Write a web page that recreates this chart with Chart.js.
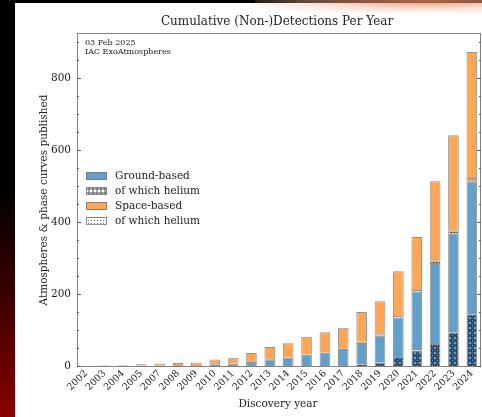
<!DOCTYPE html>
<html>
<head>
<meta charset="utf-8">
<script src="https://cdn.jsdelivr.net/npm/chart.js@4"></script>
<style>
  html, body { margin: 0; padding: 0; width: 482px; height: 417px; overflow: hidden; }
  body { background: linear-gradient(to bottom, #000 0%, #000 45%, #3a0000 70%, #8a0000 100%); position: relative; }
  #panel { position: absolute; left: 15px; top: 3px; width: 467px; height: 414px; background: #fff; }
  #glow { position: absolute; left: 255px; top: 0; width: 227px; height: 13px;
          background: radial-gradient(ellipse at 75% 0%, rgba(225,130,90,0.8) 0%, rgba(245,185,155,0.4) 50%, rgba(255,255,255,0) 85%);
          pointer-events: none; }
  #topbar { position: absolute; left: 15px; top: 0; width: 240px; height: 3px; background: #000; }
</style>
</head>
<body>
<div id="panel"><canvas id="mycanvas" width="467" height="414"></canvas></div>
<div id="topbar"></div>
<div id="glow"></div>
<script>
var years = ['2002','2003','2004','2005','2007','2008','2009','2010','2011','2012','2013',
             '2014','2015','2016','2017','2018','2019','2020','2021','2022','2023','2024'];
// ground-based (blue) totals and how many of them are helium
var groundBased   = [1, 1, 1, 1, 2, 3, 3, 5, 6, 11, 19, 23, 31, 37, 47, 64, 84, 135, 206, 286, 369, 513];
var groundHelium  = [0, 0, 0, 0, 0, 0, 0, 0, 0, 0, 0, 0, 0, 0, 0, 5, 9, 25, 43, 61, 94, 144];
// space-based (orange) totals and helium part
var spaceBased    = [0, 1, 2, 4, 5, 5, 7, 13, 17, 25, 34, 40, 50, 57, 59, 86, 96, 128, 152, 227, 272, 359];
var spaceHelium   = [0, 0, 0, 0, 0, 0, 0, 0, 0, 0, 0, 0, 0, 0, 1, 4, 4, 4, 5, 8, 8, 9];
var yMajor = [0, 200, 400, 600, 800];

var blue = 'rgb(98,160,202)';
var orange = 'rgb(255,165,86)';
var edge = 'rgba(110,110,110,0.75)';
var serif = "'DejaVu Serif', 'Liberation Serif', serif";

function ringPattern(bg, ink, size, r, lw) {
	var c = document.createElement('canvas');
	c.width = size; c.height = size;
	var g = c.getContext('2d');
	if (bg) { g.fillStyle = bg; g.fillRect(0, 0, size, size); }
	g.strokeStyle = ink; g.lineWidth = lw;
	g.beginPath(); g.arc(size/2, size/2, r, 0, Math.PI*2); g.stroke();
	return document.getElementById('mycanvas').getContext('2d').createPattern(c, 'repeat');
}
function dotPattern(bg, ink, size, r) {
	var c = document.createElement('canvas');
	c.width = size; c.height = size;
	var g = c.getContext('2d');
	if (bg) { g.fillStyle = bg; g.fillRect(0, 0, size, size); }
	g.fillStyle = ink;
	g.beginPath(); g.arc(size/2, size/2, r, 0, Math.PI*2); g.fill();
	return document.getElementById('mycanvas').getContext('2d').createPattern(c, 'repeat');
}

var groundHePat = ringPattern(blue, '#17283f', 5, 1.6, 1.4);
var spaceHePat = dotPattern(orange, '#3a2410', 3, 0.8);
var legendGroundHe = ringPattern('#fff', '#333', 4, 1.2, 0.9);
var legendSpaceHe = dotPattern('#fff', '#555', 3, 0.6);

function nz(a) { return a.map(function(v){ return v === 0 ? null : v; }); }
var groundRest = groundBased.map(function(v, i){ return v - groundHelium[i]; });
var spaceRest = spaceBased.map(function(v, i){ return v - spaceHelium[i]; });

var bw = {top: 1, left: 1, right: 1, bottom: 0};
function ds(label, data, bg) {
	return { label: label, data: nz(data), backgroundColor: bg, borderColor: edge,
	         borderWidth: bw, borderSkipped: false, stack: 's',
	         categoryPercentage: 0.58, barPercentage: 1.0 };
}

var decor = {
	id: 'decor',
	afterDraw: function(chart) {
		var ctx = chart.ctx, a = chart.chartArea, ys = chart.scales.y;
		ctx.save();
		// frame
		ctx.strokeStyle = 'rgb(130,130,130)'; ctx.lineWidth = 1;
		ctx.strokeRect(a.left + 0.5, a.top + 0.5, a.right - a.left - 1, a.bottom - a.top);
		// inward ticks, both sides
		ctx.strokeStyle = '#555';
		for (var v = 0; v <= ys.max; v += 50) {
			var y = Math.round(ys.getPixelForValue(v)) + 0.5;
			var len = (v % 200 === 0) ? 4 : 2;
			ctx.beginPath();
			ctx.moveTo(a.left, y); ctx.lineTo(a.left + len, y);
			ctx.moveTo(a.right, y); ctx.lineTo(a.right - len, y);
			ctx.stroke();
		}
		// title
		ctx.fillStyle = '#222';
		ctx.textAlign = 'center'; ctx.textBaseline = 'middle';
		ctx.font = '12px ' + serif;
		ctx.fillText('Cumulative (Non-)Detections Per Year', 262, 19);
		// axis titles
		ctx.font = '10.5px ' + serif;
		ctx.fillText('Discovery year', 263, 401);
		ctx.save();
		ctx.translate(29, 197); ctx.rotate(-Math.PI / 2);
		ctx.fillText('Atmospheres & phase curves published', 0, 0);
		ctx.restore();
		// stamp
		ctx.textAlign = 'left';
		ctx.font = '8px ' + serif;
		ctx.fillText('03 Feb 2025', 70, 40);
		ctx.fillText('IAC ExoAtmospheres', 70, 49);
		// legend
		var rows = [['Ground-based', blue], ['of which helium', legendGroundHe],
		            ['Space-based', orange], ['of which helium', legendSpaceHe]];
		ctx.font = '10.5px ' + serif;
		for (var i = 0; i < rows.length; i++) {
			var cy = 173 + i * 15;
			ctx.fillStyle = rows[i][1];
			ctx.fillRect(71, cy - 4, 21, 8);
			ctx.strokeStyle = edge;
			ctx.strokeRect(71.5, cy - 3.5, 20, 7);
			ctx.fillStyle = '#222';
			ctx.fillText(rows[i][0], 100, cy + 0.5);
		}
		ctx.restore();
	}
};

var chartdata = {
	labels: years,
	datasets: [
		ds('of which helium', groundHelium, groundHePat),
		ds('Ground-based', groundRest, blue),
		ds('of which helium', spaceHelium, spaceHePat),
		ds('Space-based', spaceRest, orange)
	]
};

var ctx = document.getElementById('mycanvas');
var StackGraph = new Chart(ctx, {
	type: 'bar',
	data: chartdata,
	plugins: [decor],
	options: {
		responsive: false,
		animation: false,
		layout: { padding: { left: 0, right: 1, top: 30, bottom: 0 } },
		plugins: { legend: { display: false }, title: { display: false }, tooltip: { enabled: false } },
		scales: {
			x: {
				stacked: true,
				offset: true,
				grid: { display: false, drawTicks: false },
				border: { display: false },
				ticks: { minRotation: 45, maxRotation: 45, autoSkip: false, padding: 2,
				         color: '#222', font: { family: serif, size: 9.5 } },
				afterFit: function(s) { s.height = 51; }
			},
			y: {
				stacked: true,
				min: 0, max: 925,
				grid: { display: false, drawTicks: false },
				border: { display: false },
				ticks: { stepSize: 50, padding: 6, color: '#222', font: { family: serif, size: 10.5 },
				         callback: function(v) { return yMajor.indexOf(v) >= 0 ? String(v) : ''; } },
				afterFit: function(s) { s.width = 62; }
			}
		}
	}
});
</script>
</body>
</html>
